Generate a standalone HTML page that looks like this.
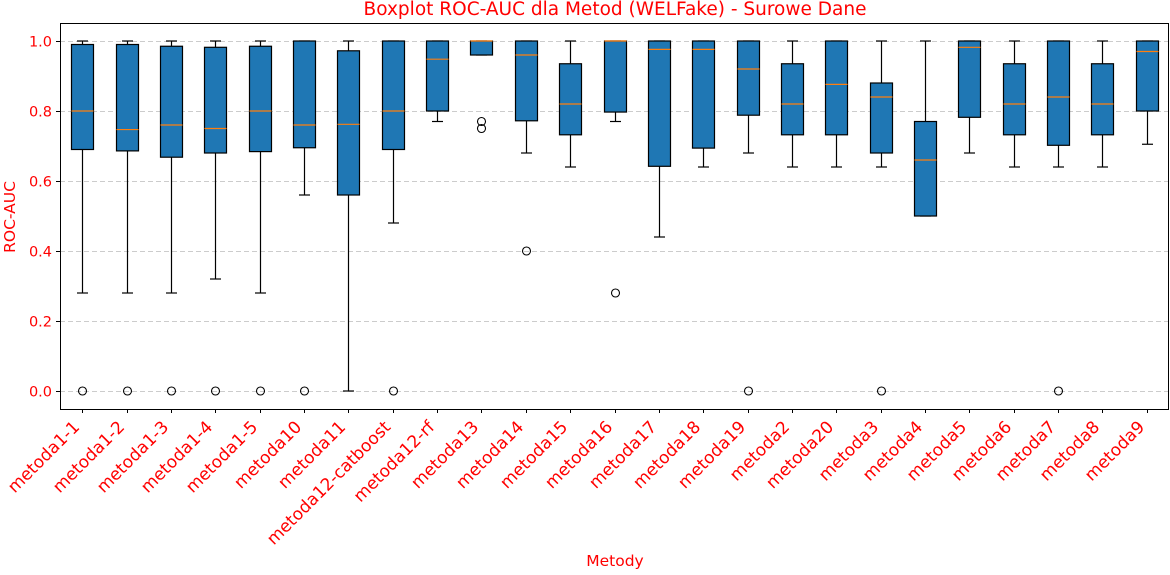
<!DOCTYPE html>
<html><head><meta charset="utf-8"><style>
body{margin:0;background:#fff;}
svg text{font-family:"DejaVu Sans","Liberation Sans",sans-serif;}
</style></head><body>
<svg id="chart" width="1170" height="570" xmlns="http://www.w3.org/2000/svg">
<text x="615" y="15" text-anchor="middle" font-size="18.5" fill="red">Boxplot ROC-AUC dla Metod (WELFake) - Surowe Dane</text>
<text x="615" y="566" text-anchor="middle" font-size="15.5" fill="red">Metody</text>
<text transform="translate(15,217) rotate(-90)" text-anchor="middle" font-size="15.5" fill="red">ROC-AUC</text>
<g id="grid"></g>
<g id="boxes"></g>
<g id="axes"></g>
<rect x="60.5" y="23.5" width="1108" height="386" fill="none" stroke="#000" stroke-width="1"/>
</svg>
<script>
const categories=["metoda1-1","metoda1-2","metoda1-3","metoda1-4","metoda1-5","metoda10","metoda11","metoda12-catboost","metoda12-rf","metoda13","metoda14","metoda15","metoda16","metoda17","metoda18","metoda19","metoda2","metoda20","metoda3","metoda4","metoda5","metoda6","metoda7","metoda8","metoda9"];
const whiskerLow=[0.28,0.28,0.28,0.32,0.28,0.56,0,0.48,0.77,0.96,0.68,0.64,0.77,0.44,0.64,0.68,0.64,0.64,0.64,0.5,0.68,0.64,0.64,0.64,0.705];
const q1=[0.69,0.686,0.668,0.68,0.684,0.695,0.56,0.69,0.8,0.96,0.772,0.732,0.797,0.642,0.694,0.788,0.732,0.732,0.68,0.5,0.782,0.732,0.702,0.732,0.8];
const medians=[0.8,0.747,0.76,0.75,0.8,0.76,0.762,0.8,0.948,1,0.96,0.82,1,0.976,0.976,0.92,0.82,0.876,0.84,0.66,0.982,0.82,0.84,0.82,0.97];
const q3=[0.99,0.99,0.985,0.982,0.985,1,0.972,1,1,1,1,0.935,1,1,1,1,0.935,1,0.88,0.77,1,0.935,1,0.935,1];
const whiskerHigh=[1,1,1,1,1,1,1,1,1,1,1,1,1,1,1,1,1,1,1,1,1,1,1,1,1];
const outliers=[[0],[0],[0],[0],[0],[0],[],[0],[],[0.77,0.75],[0.4],[],[0.28],[],[],[0],[],[],[0],[],[],[],[0],[],[]];
const yTicks=[0,0.2,0.4,0.6,0.8,1.0];
const yTickLabels=["0.0","0.2","0.4","0.6","0.8","1.0"];

const NS="http://www.w3.org/2000/svg";
const L=60,R=1169,T=23,B=409;
const yS=v=>391-v*350;
const xS=i=>L+(i+0.5)*(R-L)/categories.length;
function mk(tag,attrs,parent){const e=document.createElementNS(NS,tag);for(const k in attrs)e.setAttribute(k,attrs[k]);parent.appendChild(e);return e;}
const grid=document.getElementById('grid'),boxes=document.getElementById('boxes'),axes=document.getElementById('axes');
yTicks.forEach((v,i)=>{
  const y=Math.round(yS(v))+0.5;
  const g=mk('line',{x1:L,x2:R,y1:y,y2:y,stroke:'#ccc','stroke-dasharray':'5,3','stroke-width':1},grid);
  
  
  const t=mk('line',{x1:L-4,x2:L,y1:y,y2:y,stroke:'#000'},axes);
  
  
  const tx=mk('text',{x:L-8,y:y+5,'text-anchor':'end','font-size':14.5,fill:'red'},axes);
  tx.textContent=yTickLabels[i];
  
  
});
categories.forEach((c,i)=>{
  const x=Math.round(xS(i))+0.5;
  const g=mk('g',{},boxes);
  
  
  const cap=5.5;
  mk('line',{x1:x,x2:x,y1:yS(whiskerLow[i]),y2:yS(q1[i]),stroke:'#000','stroke-width':1.2},g);
  mk('line',{x1:x,x2:x,y1:yS(q3[i]),y2:yS(whiskerHigh[i]),stroke:'#000','stroke-width':1.2},g);
  mk('line',{x1:x-cap,x2:x+cap,y1:yS(whiskerLow[i]),y2:yS(whiskerLow[i]),stroke:'#000','stroke-width':1.2},g);
  mk('line',{x1:x-cap,x2:x+cap,y1:yS(whiskerHigh[i]),y2:yS(whiskerHigh[i]),stroke:'#000','stroke-width':1.2},g);
  mk('rect',{x:x-11,y:yS(q3[i]),width:22,height:Math.max(yS(q1[i])-yS(q3[i]),0.5),fill:'#1f77b4',stroke:'#000','stroke-width':1.2},g);
  mk('line',{x1:x-11,x2:x+11,y1:yS(medians[i]),y2:yS(medians[i]),stroke:'#ff7f0e','stroke-width':1.2},g);
  outliers[i].forEach(o=>{
    const c2=mk('circle',{cx:x,cy:yS(o),r:4,fill:'none',stroke:'#000','stroke-width':1.1},g);
    
    
  });
  const t=mk('line',{x1:x,x2:x,y1:B,y2:B+4,stroke:'#000'},axes);
  
  
  const tx=mk('text',{transform:`translate(${x-2},${B+19}) rotate(-45)`,'text-anchor':'end','font-size':17,fill:'red'},axes);
  tx.textContent=c;
  
  
});
</script>
</body></html>
